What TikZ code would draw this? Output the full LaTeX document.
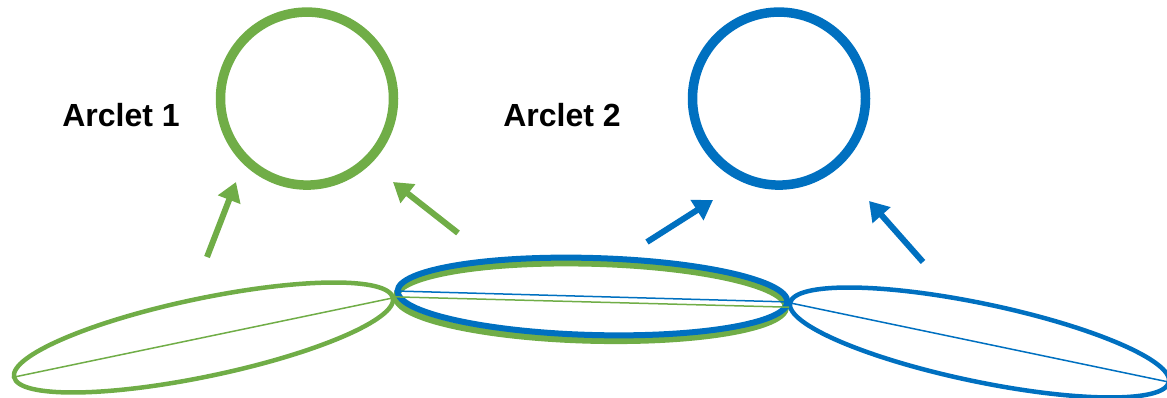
\documentclass[tikz,border=0pt]{standalone}
\usepackage{fontspec}
\setmainfont{Liberation Sans}
\usetikzlibrary{shapes.geometric,arrows.meta}
\definecolor{agreen}{HTML}{70AD47}
\definecolor{ablue}{HTML}{0070C0}
\tikzset{
  arclet/.style={circle,draw=#1,line width=9.5pt,minimum size=173pt,inner sep=0pt},
  lbl/.style={font=\fontsize{32}{36}\selectfont\bfseries,inner sep=0pt},
  lobe/.style={ellipse,draw=#1,inner sep=0pt,minimum width=390pt,minimum height=77pt},
  axisline/.style={draw=#1,line width=1.5pt},
  fatarrow/.style={draw=#1,line width=6pt,-{Triangle[length=19pt,width=23pt]}}
}
\begin{document}
\begin{tikzpicture}[x=1pt,y=1pt]
\useasboundingbox (0,0) rectangle (1167,398);
\clip (0,0) rectangle (1167,398);
% circles
\node[arclet=agreen] (c1) at (307,299.4) {};
\node[arclet=ablue] (c2) at (779,299.4) {};
% labels
\node[lbl] (l1) at (121,283) {Arclet 1};
\node[lbl] (l2) at (562,283) {Arclet 2};
% ellipses
\node[lobe=agreen,line width=4.5pt,rotate=11.8,minimum width=387pt,minimum height=78pt] (e1) at (203.5,60.5) {};
\node[lobe=agreen,line width=6.5pt,rotate=-1.5] (e2g) at (591,96) {};
\node[lobe=ablue,line width=6pt,rotate=-1.6] (e2b) at (592.5,101.5) {};
\node[lobe=ablue,line width=4.5pt,rotate=-11.8,minimum width=387pt,minimum height=78pt] (e3) at (979.5,55.5) {};
\draw[axisline=agreen] (e1.west) -- (e1.east);
\draw[axisline=agreen] (e2g.west) -- (e2g.east);
\draw[axisline=ablue] (e2b.west) -- (e2b.east);
\draw[axisline=ablue] (e3.west) -- (e3.east);
% arrows
\coordinate (t1) at (207,141); \coordinate (h1) at (236,216);
\coordinate (t2) at (458,165); \coordinate (h2) at (393,216);
\coordinate (t3) at (647,156); \coordinate (h3) at (713,198);
\coordinate (t4) at (923,136); \coordinate (h4) at (869,197);
\draw[fatarrow=agreen] (t1) -- (h1);
\draw[fatarrow=agreen] (t2) -- (h2);
\draw[fatarrow=ablue] (t3) -- (h3);
\draw[fatarrow=ablue] (t4) -- (h4);
\end{tikzpicture}
\end{document}
